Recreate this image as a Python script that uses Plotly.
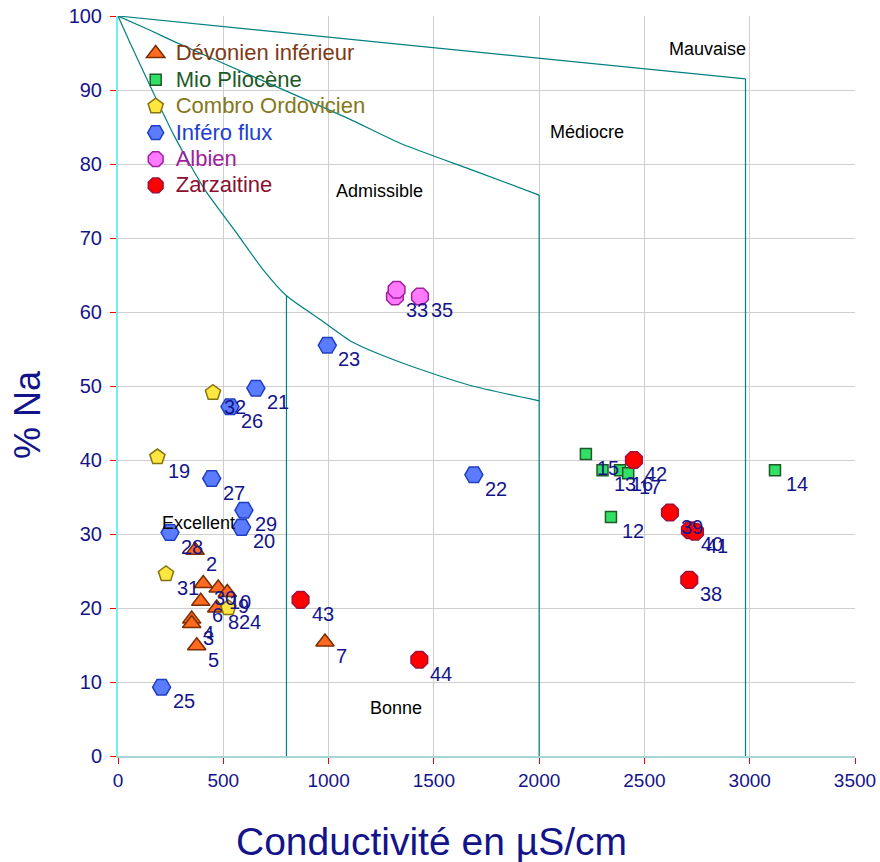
import plotly.graph_objects as go

# ---------------- data ----------------
dev_x = [366, 405, 476, 519, 393, 469, 350, 350, 374, 983]
dev_y = [27.8, 23.3, 22.7, 22.1, 20.9, 20.0, 18.5, 17.9, 14.9, 15.4]
dev_lbl = ["2", "30", "10", "9", "6", "8", "4", "3", "5", "7"]

mio_x = [2222, 2301, 2384, 2423, 2341, 3120]
mio_y = [40.8, 38.6, 38.6, 38.2, 32.3, 38.6]
mio_lbl = ["15", "13", "16", "17", "12", "14"]

com_x = [187, 524, 228, 451]
com_y = [40.4, 20.0, 24.6, 49.1]
com_lbl = ["19", "24", "31", "32"]

inf_x = [994, 655, 532, 1690, 445, 598, 587, 247, 207]
inf_y = [55.5, 49.7, 47.2, 38.0, 37.5, 33.2, 30.9, 30.2, 9.3]
inf_lbl = ["23", "21", "26", "22", "27", "29", "20", "28", "25"]

alb_x = [1315, 1323, 1434]
alb_y = [62.1, 63.0, 62.1]
alb_lbl = ["33", "", "35"]

zar_x = [2450, 2621, 2716, 2740, 2713, 867, 1431]
zar_y = [40.0, 32.9, 30.5, 30.3, 23.8, 21.1, 13.0]
zar_lbl = ["42", "39", "40", "41", "38", "43", "44"]

# Wilcox-type class boundaries
curveA_x = [0, 57, 271, 413, 560, 684, 800, 960, 1115, 1350, 1670, 2000]
curveA_y = [100, 96.4, 83.6, 76.5, 70.8, 65.9, 62.2, 59.0, 55.9, 53.1, 50.1, 48.0]
curveB_x = [0, 150, 270, 700, 1090, 1340, 1670, 2000]
curveB_y = [100, 98.1, 96.5, 91.1, 86.2, 82.8, 79.3, 75.8]
curveC_x = [0, 2980]
curveC_y = [100, 91.5]
vert_x = [800, 2000, 2980]
vert_top = [62.2, 75.8, 91.5]

zone_names = ["Excellent", "Bonne", "Admissible", "Médiocre", "Mauvaise"]
zone_x = [380, 1320, 1244, 2227, 2801]
zone_y = [31.5, 6.5, 76.4, 84.3, 95.5]

x_ticks = [0, 500, 1000, 1500, 2000, 2500, 3000, 3500]
y_ticks = [0, 10, 20, 30, 40, 50, 60, 70, 80, 90, 100]

FONT = "Arial, Liberation Sans, sans-serif"
NAVY = "#14148a"
TEAL = "#008080"

fig = go.Figure()

# boundaries
for bx, by in [(curveA_x, curveA_y), (curveB_x, curveB_y)]:
    fig.add_trace(go.Scatter(x=bx, y=by, mode="lines",
                             line=dict(color=TEAL, width=1.2, shape="spline", smoothing=0.6),
                             showlegend=False, hoverinfo="skip"))
fig.add_trace(go.Scatter(x=curveC_x, y=curveC_y, mode="lines", line=dict(color=TEAL, width=1.2),
                         showlegend=False, hoverinfo="skip"))
for vx, vt in zip(vert_x, vert_top):
    fig.add_trace(go.Scatter(x=[vx, vx], y=[0, vt], mode="lines", line=dict(color=TEAL, width=1.2),
                             showlegend=False, hoverinfo="skip"))

series = [
    ("Dévonien inférieur", dev_x, dev_y, dev_lbl, "triangle-up", 16, "#ff6a1f", "#7a2e00", "#7f3a14", 1),
    ("Mio Pliocène", mio_x, mio_y, mio_lbl, "square", 11, "#33e066", "#1d5a28", "#1d5a28", 2),
    ("Inféro flux", inf_x, inf_y, inf_lbl, "hexagon2", 18, "#5b7cff", "#1f3fc2", "#2040d0", 4),
    ("Combro Ordovicien", com_x, com_y, com_lbl, "pentagon", 16, "#ffe640", "#857510", "#85781a", 3),
    ("Albien", alb_x, alb_y, alb_lbl, "octagon", 18, "#ff7aff", "#a020a0", "#a020a0", 5),
    ("Zarzaitine", zar_x, zar_y, zar_lbl, "octagon", 18, "#ff0000", "#a0103a", "#8b1030", 6),
]
for name, xs, ys, lbl, sym, sz, fill, edge, tcol, rank in series:
    fig.add_trace(go.Scatter(
        x=xs, y=ys, mode="markers",
        marker=dict(symbol=sym, size=sz, color=fill, line=dict(color=edge, width=1.5)),
        name=f"<span style='font-size:22px;color:{tcol}'>{name}</span>",
        legendrank=rank,
    ))
    for px_, py_, t in zip(xs, ys, lbl):
        if t:
            fig.add_annotation(x=px_, y=py_, text=t, showarrow=False, xanchor="left", yanchor="middle",
                               xshift=9, yshift=-14, font=dict(family=FONT, size=20, color=NAVY))

for zn, zx, zy in zip(zone_names, zone_x, zone_y):
    fig.add_annotation(x=zx, y=zy, text=zn, showarrow=False,
                       font=dict(family=FONT, size=18, color="black"))

fig.add_annotation(xref="paper", yref="paper", x=-0.122, y=0.461, text="% Na", textangle=-90,
                   xanchor="center", yanchor="middle",
                   showarrow=False, font=dict(family=FONT, size=36, color=NAVY))
fig.add_annotation(xref="paper", yref="paper", x=0.426, y=-0.116, text="Conductivité en µS/cm",
                   xanchor="center", yanchor="middle",
                   showarrow=False, font=dict(family=FONT, size=39, color=NAVY))

fig.update_layout(
    width=880, height=862,
    margin=dict(l=118, r=25, t=16, b=106),
    paper_bgcolor="white", plot_bgcolor="white",
    font=dict(family=FONT, color=NAVY),
    legend=dict(x=0.024, y=0.974, xanchor="left", yanchor="top",
                bgcolor="rgba(0,0,0,0)", font=dict(size=18, family=FONT)),
    xaxis=dict(range=[0, 3500], tickvals=x_ticks, showgrid=True, gridcolor="#cfcfcf", gridwidth=1,
               zeroline=False, showline=True, linecolor="#a8d4d4", linewidth=2, automargin=False,
               ticks="outside", ticklen=6, tickcolor="red", tickwidth=1,
               ticklabeloverflow="allow",
               tickfont=dict(family=FONT, size=19, color=NAVY)),
    yaxis=dict(range=[0, 100], tickvals=y_ticks, showgrid=True, gridcolor="#cfcfcf", gridwidth=1,
               zeroline=False, showline=True, linecolor="#70f0f0", linewidth=2, automargin=False,
               ticks="outside", ticklen=6, tickcolor="red", tickwidth=1,
               ticklabelstandoff=4, ticklabeloverflow="allow",
               tickfont=dict(family=FONT, size=20, color=NAVY)),
)

fig.write_html("out.html", config={"displayModeBar": False},
               post_script="document.body.style.margin='0';")
